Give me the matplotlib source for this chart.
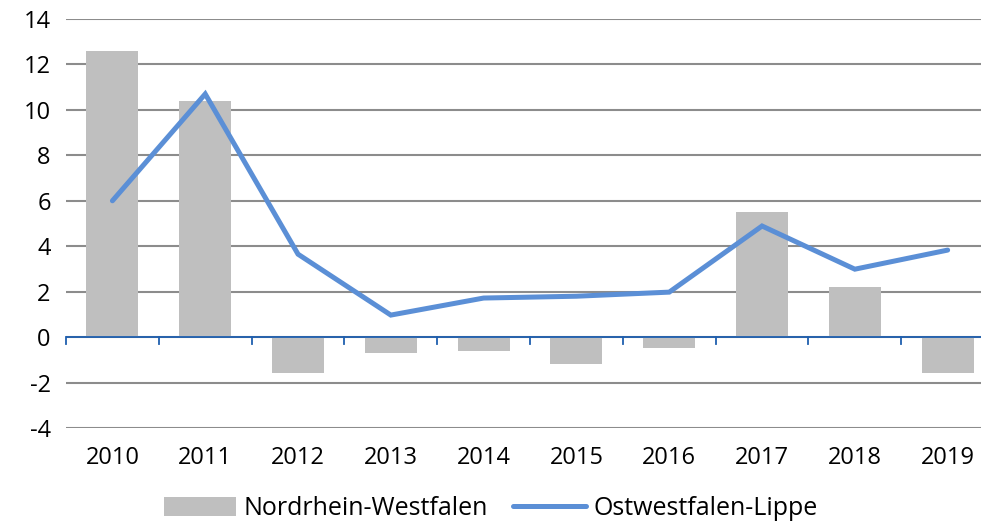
import matplotlib
matplotlib.use('Agg')
import matplotlib.pyplot as plt
import numpy as np

years = ['2010', '2011', '2012', '2013', '2014', '2015', '2016', '2017', '2018', '2019']
nrw = [12.6, 10.4, -1.6, -0.7, -0.6, -1.2, -0.5, 5.5, 2.2, -1.6]
owl = [6.0, 10.7, 3.65, 0.97, 1.72, 1.8, 1.98, 4.89, 2.99, 3.83]

plt.rcParams['font.family'] = ['Open Sans', 'DejaVu Sans']

BAR_C = '#BFBFBF'
LINE_C = '#5B8FD6'
AXIS_C = '#1F5FAF'
GRID_C = '#8C8C8C'
FS = 17

fig = plt.figure(figsize=(9.81, 5.23), dpi=100)
# plot area runs slightly past the right image edge, as in the reference crop
ax = fig.add_axes([0.0673, 0.1816, 0.946, 0.7821])

x = np.arange(len(years))
bars = ax.bar(x, nrw, width=0.56, color=BAR_C, zorder=2)
line, = ax.plot(x, owl, color=LINE_C, lw=3.6, solid_joinstyle='miter', solid_capstyle='round',
                zorder=3)

ax.set_xlim(-0.5, len(years) - 0.5)
ax.set_ylim(-4, 14)
ax.set_yticks(np.arange(-4, 15, 2))
ax.set_yticklabels([str(v) for v in range(-4, 15, 2)])
ax.yaxis.grid(True, color=GRID_C, lw=1.5, zorder=0)
ax.set_axisbelow(True)
for s in ax.spines.values():
    s.set_visible(False)
ax.tick_params(axis='y', length=0, labelsize=FS, pad=11)

# zero axis line with category boundary ticks
ax.axhline(0, color=AXIS_C, lw=1.3, zorder=4)
for b in np.arange(-0.5, len(years), 1.0):
    ax.plot([b, b], [0, -0.3], color=AXIS_C, lw=1.3, zorder=4, clip_on=False)

ax.set_xticks(x)
ax.set_xticklabels(years)
ax.tick_params(axis='x', length=0, labelsize=FS, pad=13)

fig.legend([bars, line], ['Nordrhein-Westfalen', 'Ostwestfalen-Lippe'],
           loc='lower center', bbox_to_anchor=(0.5, -0.04), ncol=2, frameon=False,
           fontsize=18, handlelength=2.9, handleheight=0.8, columnspacing=1.0,
           handletextpad=0.3)

fig.savefig('out.png', dpi=100, facecolor='white')
